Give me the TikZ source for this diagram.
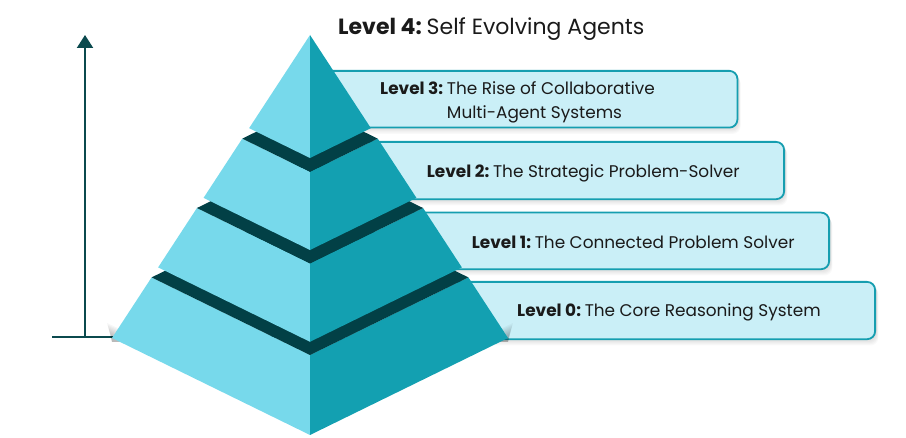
\documentclass[tikz,border=0pt]{standalone}
\usepackage{fontspec}
\setmainfont{Poppins}
\usetikzlibrary{arrows.meta}
\definecolor{faceL}{HTML}{77D9EB}
\definecolor{faceR}{HTML}{13A0B1}
\definecolor{bandC}{HTML}{024046}
\definecolor{boxF}{HTML}{CAEFF7}
\definecolor{boxB}{HTML}{169EB0}
\definecolor{axisC}{HTML}{0B4A4E}
\definecolor{txtC}{HTML}{1A1A1A}
\newcommand\pyrpts[2]{%
  \coordinate (#1L) at ({310-198*#2},{35+303*#2});
  \coordinate (#1F) at (310,{35+400*#2});
  \coordinate (#1R) at ({310+198*#2},{35+303*#2});
  \coordinate (#1B) at (310,{35+206*#2});}
\newcommand\lvlgap{\hspace{0.22em}}
\tikzset{
  lface/.style={fill=faceL},
  rface/.style={fill=faceR},
  band/.style={fill=bandC},
  lvlbox/.style={draw=boxB, line width=1.8pt, fill=boxF, rounded corners=8pt, rectangle, inner sep=0pt},
  lbl/.style={text=txtC, font=\fontsize{16.9}{20}\selectfont, inner sep=0pt, anchor=base west},
  axis/.style={draw=axisC, line width=2pt},
}
\begin{document}
\begin{tikzpicture}[x=1pt,y=-1pt]
\useasboundingbox (0,0) rectangle (906,438);
% box shadows
\foreach \t/\b/\r in {70/126.7/738.3, 141/198.3/785, 211.7/268.3/830, 281/338.3/876}{
  \foreach \i in {1,...,6}{
    \fill[black, opacity=0.025, rounded corners=8pt] (315,\t+\i) rectangle (\r+\i*0.4,\b+\i*1.2);
  }
}
% boxes
\node[lvlbox, minimum width=423.3pt, minimum height=56.7pt, anchor=north east] (b3) at (738.3,70) {};
\node[lvlbox, minimum width=470pt, minimum height=57.3pt, anchor=north east] (b2) at (785,141) {};
\node[lvlbox, minimum width=515pt, minimum height=56.6pt, anchor=north east] (b1) at (830,211.7) {};
\node[lvlbox, minimum width=561pt, minimum height=57.3pt, anchor=north east] (b0) at (876,281) {};
% axis
\coordinate (axbase) at (52,337.5);
\coordinate (axend) at (310,337.5);
\coordinate (arrfoot) at (85,337.5);
\coordinate (arrtip) at (85,35);
\draw[axis] (axbase) -- (axend);
\draw[axis, -{Triangle[length=13pt,width=16pt]}] (arrfoot) -- (arrtip);
% pyramid points
\coordinate (apex) at (310,35);
\pyrpts{a}{0.3075}
\pyrpts{b}{0.342}
\pyrpts{c}{0.5375}
\pyrpts{d}{0.571}
\pyrpts{e}{0.767}
\pyrpts{f}{0.8}
\pyrpts{g}{1}
% pyramid shadow
\foreach \i in {1,...,10}{
  \fill[black, opacity=0.03] ([yshift=-4pt]gL) -- ([yshift=\i*1.5pt, xshift=-\i*0.5pt]gL) -- ([yshift=\i*1.6pt]gF) -- ([yshift=\i*1.5pt, xshift=\i*0.5pt]gR) -- ([yshift=-4pt]gR) -- cycle;
}
% bottom tier
\fill[lface] (fL) -- (fF) -- (gF) -- (gL) -- cycle;
\fill[rface] (fF) -- (fR) -- (gR) -- (gF) -- cycle;
\fill[band] (fL) -- (fF) -- (fR) -- (fB) -- cycle;
% tier 2
\fill[lface] (dL) -- (dF) -- (eF) -- (eL) -- cycle;
\fill[rface] (dF) -- (dR) -- (eR) -- (eF) -- cycle;
\fill[band] (dL) -- (dF) -- (dR) -- (dB) -- cycle;
% tier 3
\fill[lface] (bL) -- (bF) -- (cF) -- (cL) -- cycle;
\fill[rface] (bF) -- (bR) -- (cR) -- (cF) -- cycle;
\fill[band] (bL) -- (bF) -- (bR) -- (bB) -- cycle;
% top tier
\fill[lface] (apex) -- (aF) -- (aL) -- cycle;
\fill[rface] (apex) -- (aR) -- (aF) -- cycle;
% labels
\node[lbl, font=\fontsize{22}{24}\selectfont] (t4) at (338,35) {\textbf{Level 4:}\lvlgap Self Evolving Agents};
\node[lbl] (t3) at (380,95) {\textbf{Level 3:}\lvlgap\begin{tabular}[t]{@{}l@{}}The Rise of Collaborative\\[3.3pt]Multi-Agent Systems\end{tabular}};
\node[lbl] (t2) at (426.7,178) {\textbf{Level 2:}\lvlgap The Strategic Problem-Solver};
\node[lbl] (t1) at (471.7,249) {\textbf{Level 1:}\lvlgap The Connected Problem Solver};
\node[lbl] (t0) at (517,317) {\textbf{Level 0:}\lvlgap The Core Reasoning System};
\end{tikzpicture}
\end{document}
